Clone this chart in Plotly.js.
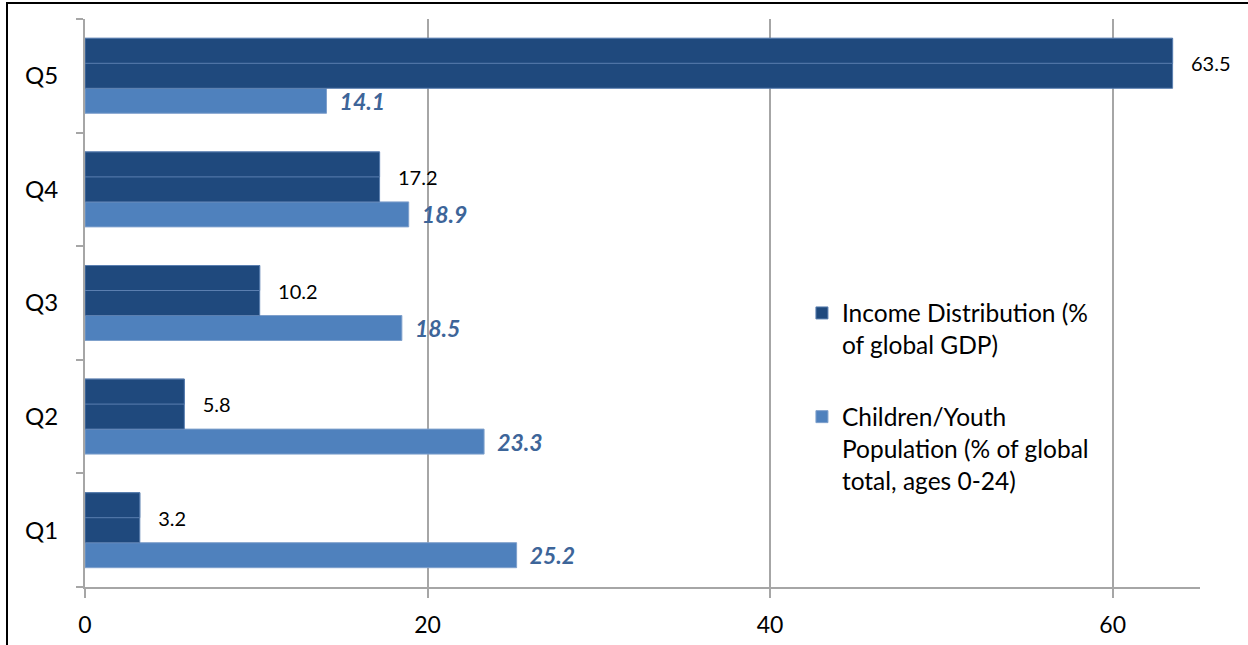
<!DOCTYPE html>
<html>
<head>
<meta charset="utf-8">
<script src="https://cdn.plot.ly/plotly-3.0.1.min.js"></script>
<style>
  html, body { margin: 0; padding: 0; background: #fff; }
  #wrap { position: relative; width: 1248px; height: 645px; }
  #chart { position: absolute; left: 0; top: 0; width: 1248px; height: 645px; }
  #frame { position: absolute; left: 6px; top: 2px; width: 1242px; height: 643px;
           border-top: 2px solid #000; border-left: 2px solid #000; box-sizing: border-box;
           pointer-events: none; }
</style>
</head>
<body>
<div id="wrap">
  <div id="chart"></div>
  <div id="frame"></div>
</div>
<script>
const categories = ['Q1', 'Q2', 'Q3', 'Q4', 'Q5'];
const incomeShare = [3.2, 5.8, 10.2, 17.2, 63.5];
const youthShare = [25.2, 23.3, 18.5, 18.9, 14.1];
const incomeName = 'Income Distribution (%<br>of global GDP)';
const youthName = 'Children/Youth<br>Population (% of global<br>total, ages 0-24)';
const xTicks = [0, 20, 40, 60];

const DARK = '#1f497d';
const LIGHT = '#4f81bd';
const FONT = 'Lato, "Open Sans", sans-serif';

const traces = [
  {
    type: 'bar', orientation: 'h', name: youthName,
    y: categories, x: youthShare,
    offset: -0.33, width: 0.22,
    marker: { color: LIGHT, line: { color: '#7fa0cc', width: 1 } },
    text: youthShare.map(v => '\u00a0\u00a0' + v.toFixed(1)),
    textposition: 'outside', cliponaxis: false, constraintext: 'none',
    textfont: { family: FONT, size: 23, color: '#3d6599', weight: 'bold', style: 'italic' },
    legendgroup: 'b', legendrank: 2, hoverinfo: 'x'
  },
  {
    type: 'bar', orientation: 'h', name: incomeName,
    y: categories, x: incomeShare,
    offset: -0.11, width: 0.44,
    marker: { color: DARK, line: { color: '#5b7fb0', width: 1 } },
    text: incomeShare.map(v => '\u00a0\u00a0\u00a0' + v.toFixed(1)),
    textposition: 'outside', cliponaxis: false, constraintext: 'none',
    textfont: { family: FONT, size: 20, color: '#000' },
    legendgroup: 'a', legendrank: 1, hoverinfo: 'x'
  },
  {
    type: 'bar', orientation: 'h', name: incomeName,
    y: categories, x: incomeShare,
    offset: 0.11, width: 0.22,
    marker: { color: DARK, line: { color: '#5b7fb0', width: 1 } },
    showlegend: false, hoverinfo: 'skip', legendgroup: 'a'
  }
];

const layout = {
  width: 1248, height: 645,
  margin: { l: 85, r: 48, t: 19, b: 58 },
  paper_bgcolor: '#fff', plot_bgcolor: '#fff',
  barmode: 'overlay',
  font: { family: FONT, size: 22, color: '#000' },
  xaxis: {
    range: [0, 65.1], tickvals: xTicks, ticktext: xTicks.map(String),
    showgrid: true, gridcolor: '#a6a6a6', gridwidth: 2,
    zeroline: false, showline: true, linecolor: '#a6a6a6', linewidth: 2,
    ticks: 'outside', ticklen: 9, tickwidth: 2, tickcolor: '#a6a6a6',
    ticklabelstandoff: 7,
    tickfont: { family: FONT, size: 23, color: '#000' }, fixedrange: true
  },
  yaxis: {
    type: 'category', categoryarray: categories, range: [-0.5, 4.5],
    tickson: 'boundaries', ticks: 'outside', ticklen: 7, tickwidth: 2, tickcolor: '#a6a6a6',
    showline: true, linecolor: '#a6a6a6', linewidth: 2, showgrid: false, zeroline: false,
    ticklabelstandoff: 20,
    tickfont: { family: FONT, size: 24, color: '#000' }, fixedrange: true
  },
  showlegend: true,
  legend: {
    x: 0.643, y: 0.522, xanchor: 'left', yanchor: 'top',
    traceorder: 'grouped', tracegroupgap: 37, itemwidth: 30, valign: 'top',
    font: { family: FONT, size: 24.5, color: '#000' },
    bgcolor: 'rgba(0,0,0,0)'
  }
};

Plotly.newPlot('chart', traces, layout, { displayModeBar: false, staticPlot: true });
</script>
</body>
</html>
